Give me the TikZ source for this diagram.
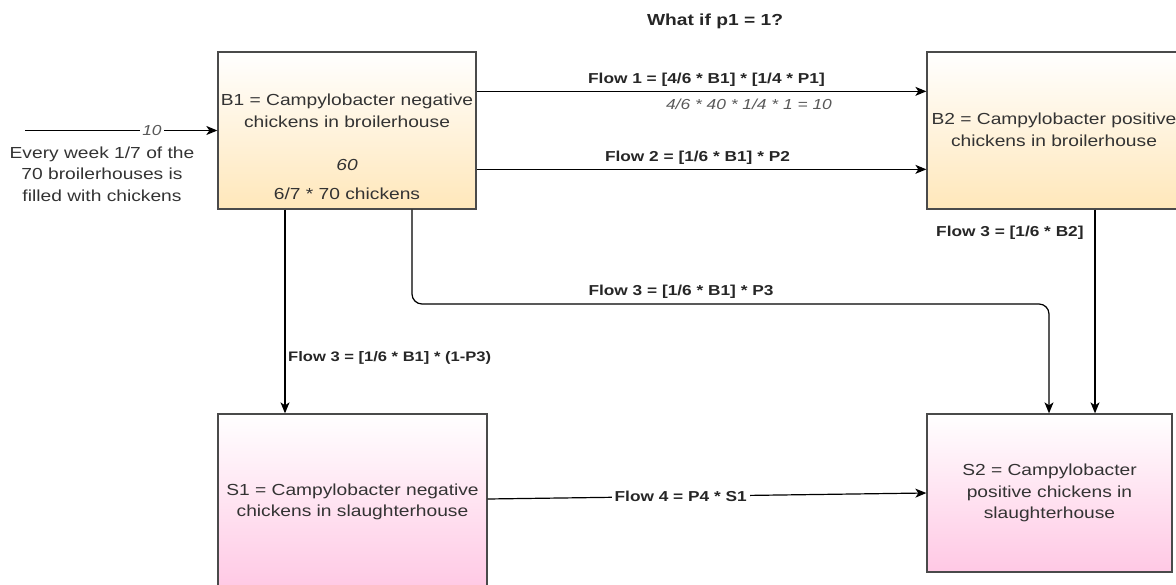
\documentclass[tikz,border=0pt]{standalone}
\usepackage{fontspec}
\setmainfont{Liberation Sans}[FakeStretch=1.2]
\usetikzlibrary{arrows.meta,calc}
\definecolor{boxline}{HTML}{4A4A4A}
\definecolor{txt}{HTML}{333333}
\definecolor{peach}{HTML}{FFE7BA}
\definecolor{pinkish}{HTML}{FFC8E4}
\begin{document}
\begin{tikzpicture}[x=1pt,y=-1pt,
  every node/.style={font=\fontsize{16}{21.5}\selectfont, text=txt},
  stock/.style={draw=boxline, line width=1.3pt, rectangle, inner sep=0pt},
  broiler/.style={stock, top color=white, bottom color=peach},
  slaughter/.style={stock, top color=white, bottom color=pinkish},
  flow/.style={draw=black, line width=1.2pt, -{Stealth[length=11pt,width=9pt,inset=3pt]}},
  flowlbl/.style={font=\bfseries\fontsize{14.4}{17}\selectfont, text=black!85, inner sep=1pt},
  note/.style={font=\itshape\fontsize{14.5}{17}\selectfont, text=black!65, inner sep=1pt},
]
\useasboundingbox (0,0) rectangle (1176,585);

% stocks
\node[broiler, minimum width=258pt, minimum height=157pt] (B1) at (347,130.5) {};
\node[broiler, minimum width=258pt, minimum height=157pt] (B2) at (1056,130.5) {};
\node[slaughter, minimum width=269pt, minimum height=176pt] (S1) at (352.5,502) {};
\node[slaughter, minimum width=245pt, minimum height=158pt] (S2) at (1049.5,493) {};

% stock texts
\node[align=center] (B1name) at (347,111) {B1 = Campylobacter negative\\chickens in broilerhouse};
\node[font=\itshape\fontsize{16}{21}\selectfont] (B1val) at (347,165) {60};
\node (B1calc) at (347,194) {6/7 * 70 chickens};
\node[align=center] (B2name) at (1054,130) {B2 = Campylobacter positive\\chickens in broilerhouse};
\node[align=center] (S1name) at (352.5,502) {S1 = Campylobacter negative\\chickens in slaughterhouse};
\node[align=center] (S2name) at (1049.5,493) {S2 = Campylobacter\\positive chickens in\\slaughterhouse};

% title
\node[font=\bfseries\fontsize{16}{19}\selectfont, text=black!85] (title) at (715,21) {What if p1 = 1?};

% inflow
\coordinate (src) at (25,130.5);
\draw[flow] (src) -- (B1.west) node[pos=0.66, note, fill=white, inner sep=2pt] (inlbl) {10};
\node[align=center] (intext) at (102,174) {Every week 1/7 of the\\70 broilerhouses is\\filled with chickens};

% flow 1 and flow 2
\draw[flow] ([yshift=-40pt]B1.north east) -- ([yshift=-40pt]B2.north west)
  node[midway, above=3pt, flowlbl, xshift=5pt] (f1) {Flow 1 = [4/6 * B1] * [1/4 * P1]};
\node[note] (f1calc) at (749,104) {4/6 * 40 * 1/4 * 1 = 10};
\draw[flow] ([yshift=-118pt]B1.north east) -- ([yshift=-118pt]B2.north west)
  node[midway, above=3pt, flowlbl, xshift=-4pt] (f2) {Flow 2 = [1/6 * B1] * P2};

% flow 3 branches
\coordinate (c1) at (285,300);
\coordinate (c2a) at (412,304);
\coordinate (c2b) at (1049,304);
\coordinate (c3) at (1095,300);
\draw[flow] (c1 |- B1.south) -- (c1 |- S1.north);
\node[flowlbl, anchor=west, font=\bfseries\fontsize{13.8}{17}\selectfont] (f3a) at (287,358) {Flow 3 = [1/6 * B1] * (1-P3)};
\draw[flow, rounded corners=10pt] (c2a |- B1.south) -- (c2a) -- (c2b) -- (c2b |- S2.north);
\node[flowlbl] (f3b) at (681,292) {Flow 3 = [1/6 * B1] * P3};
\draw[flow] (c3 |- B2.south) -- (c3 |- S2.north);
\node[flowlbl, anchor=west] (f3c) at (935,233) {Flow 3 = [1/6 * B2]};

% flow 4
\draw[flow] ([yshift=3pt]S1.east) -- (S2.west)
  node[pos=0.44, flowlbl, fill=white, inner sep=3pt] (f4) {Flow 4 = P4 * S1};
\end{tikzpicture}
\end{document}
